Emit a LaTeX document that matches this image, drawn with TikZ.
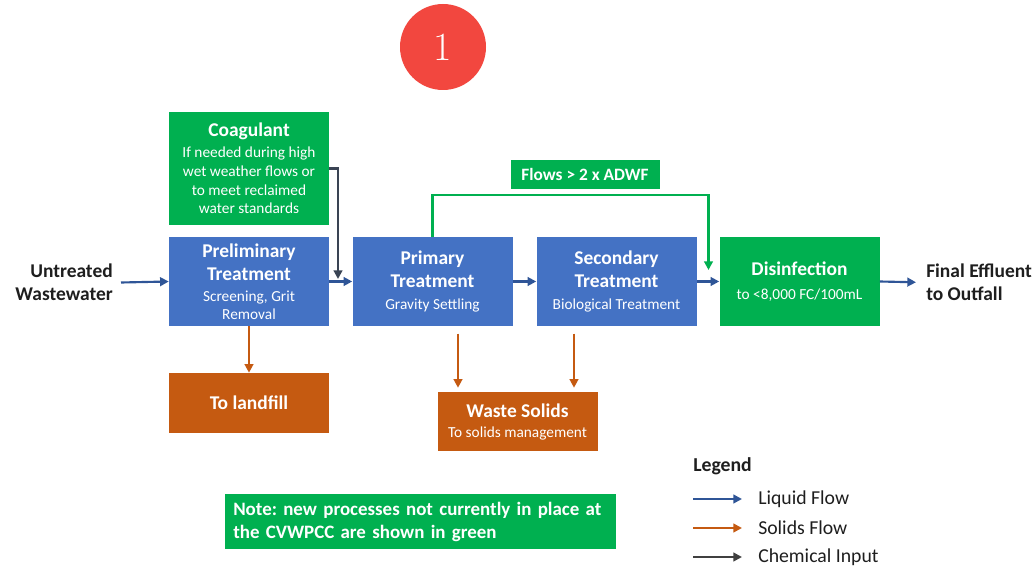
\documentclass[tikz,border=0pt]{standalone}
\usepackage{fontspec}
\newfontfamily\calibfont{Carlito}
\usetikzlibrary{arrows.meta}

\definecolor{procblue}{HTML}{4472C4}
\definecolor{newgreen}{HTML}{00B050}
\definecolor{solidorange}{HTML}{C55A11}
\definecolor{liquidblue}{HTML}{2F5597}
\definecolor{chemgray}{HTML}{3A4454}
\definecolor{badgered}{HTML}{F2473F}
\definecolor{inkblack}{HTML}{1E1E1E}

\newcommand{\titlesize}{\fontsize{14.6}{17.25}\selectfont\bfseries}
\newcommand{\subsize}{\fontsize{11.5}{13.9}\selectfont\mdseries}
\frenchspacing

\begin{document}
\begin{tikzpicture}[x=0.75pt, y=-0.75pt,
    box/.style={align=center, text=white, inner sep=0pt,
        font=\calibfont\titlesize},
    procbox/.style={box, fill=procblue, minimum width=120pt,
        minimum height=66.75pt},
    newbox/.style={box, fill=newgreen, minimum width=120pt,
        minimum height=66.75pt},
    solidbox/.style={box, fill=solidorange, minimum width=120pt,
        minimum height=45pt},
    plain/.style={text=inkblack, inner sep=0pt, font=\calibfont\titlesize},
    legendtxt/.style={text=inkblack, inner sep=0pt,
        font=\calibfont\fontsize{14.8}{17}\selectfont},
    liquid/.style={draw=liquidblue, line width=1.6pt,
        -{Triangle[length=6.5pt,width=6.5pt]}},
    solids/.style={draw=solidorange, line width=1.6pt,
        -{Triangle[length=6.5pt,width=6.5pt]}},
    chem/.style={draw=chemgray, line width=1.6pt,
        -{Triangle[length=6.5pt,width=6.5pt]}},
    bypass/.style={draw=newgreen, line width=1.6pt,
        -{Triangle[length=6.5pt,width=6.5pt]}}]
    \fill [white] (0, 0) rectangle (1033, 570);
    \useasboundingbox (0, 0) rectangle (1033, 570);

    \node [circle, fill=badgered, minimum size=64.5pt, inner sep=0pt,
    text=white, font=\fontsize{30}{30}\selectfont] (badge) at (443, 47) {1};

    \node [newbox, minimum height=84.75pt] (coag) at (249, 168.5)
    {Coagulant\\[-1.5pt]{\subsize If needed during high}\\[-3.35pt]{\subsize
    wet weather flows or}\\[-3.35pt]{\subsize to meet reclaimed}\\[-3.35pt]{\subsize
    water standards}};

    \node [procbox] (prelim) at (249, 281.5) {Preliminary\\Treatment\\[-1.5pt]
    {\subsize Screening, Grit}\\[-3.35pt]{\subsize Removal}};

    \node [procbox] (primary) at (432.5, 281.5) {Primary\\Treatment\\[-0.75pt]
    {\subsize Gravity Settling}};

    \node [procbox] (secondary) at (616.5, 281.5) {Secondary\\Treatment\\[-0.75pt]
    {\subsize Biological Treatment}};

    \node [newbox] (disinf) at (799.5, 281.5) {Disinfection\\[0.75pt]
    {\subsize to <8,000 FC/100mL}};

    \node [newbox, minimum width=111.75pt, minimum height=21.75pt,
    font=\calibfont\fontsize{13}{15}\selectfont\bfseries] (bypasslbl)
    at (585, 174.5) {Flows > 2 x ADWF};

    \node [solidbox] (landfill) at (249, 403) {To landfill};

    \node [solidbox, minimum height=44.25pt] (waste) at (517.5, 421.5)
    {Waste Solids\\[-2.25pt]{\subsize To solids management}};

    \node [plain, align=right, anchor=east, inner xsep=6pt] (untreated)
    at (121, 282.5) {Untreated\\Wastewater};

    \node [plain, align=left, anchor=west] (final) at (926, 282.5)
    {Final Effluent\\to Outfall};

    \node [newbox, align=left, anchor=north west, inner xsep=6pt,
    text width=281.25pt, minimum height=41.25pt,
    font=\calibfont\fontsize{14.2}{17.25}\selectfont\bfseries] (note)
    at (225, 494) {Note: new processes not currently in place at\\the
    CVWPCC are shown in green};

    \draw [liquid] (untreated.east) -- (prelim.west);
    \draw [liquid] (prelim.east) -- (primary.west);
    \draw [liquid] (primary.east) -- (secondary.west);
    \draw [liquid] (secondary.east) -- (disinf.west);
    \draw [liquid, shorten >=7.5pt] (disinf.east) -- (final.west);

    \coordinate (coagin) at (338, 279);
    \draw [chem] (coag.east) -| (coagin);

    \coordinate (bypassin) at (708.5, 270);
    \draw [bypass] (primary.north) -- ++(0, -42) -| (bypassin);

    \coordinate (w1) at (458, 0);
    \coordinate (w2) at (574, 0);
    \draw [solids] (prelim.south) -- (landfill.north);
    \draw [solids, shorten <=5.5pt, shorten >=3pt] (primary.south -| w1)
    -- (waste.north -| w1);
    \draw [solids, shorten <=5.5pt, shorten >=3pt] (secondary.south -| w2)
    -- (waste.north -| w2);

    \node [plain, anchor=west, font=\calibfont\fontsize{14.8}{17}\selectfont\bfseries]
    (legend) at (693, 466) {Legend};
    \node [legendtxt, anchor=west] (liqlbl) at (758, 499) {Liquid Flow};
    \node [legendtxt, anchor=west] (sollbl) at (758, 528) {Solids Flow};
    \node [legendtxt, anchor=west] (chmlbl) at (758, 557) {Chemical Input};

    \coordinate (la0) at (693, 499);
    \coordinate (la1) at (742, 499);
    \coordinate (ls0) at (693, 528);
    \coordinate (ls1) at (742, 528);
    \coordinate (lc0) at (693, 557);
    \coordinate (lc1) at (742, 557);
    \draw [liquid] (la0) -- (la1);
    \draw [solids] (ls0) -- (ls1);
    \draw [chem, draw=inkblack!85] (lc0) -- (lc1);
\end{tikzpicture}
\end{document}
